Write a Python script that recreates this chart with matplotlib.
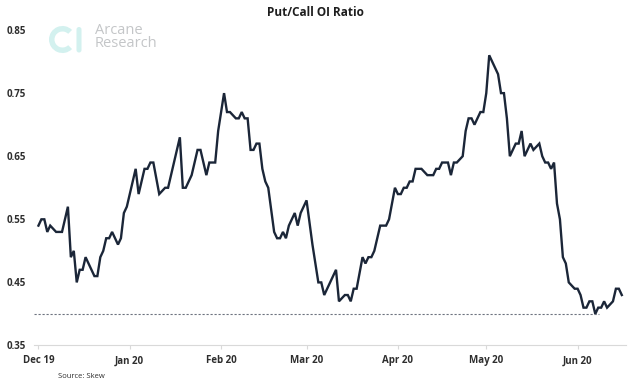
#!/usr/bin/env python3
import pandas as pd
import matplotlib
matplotlib.use('Agg')
import matplotlib.pyplot as plt
import matplotlib.dates as mdates
from matplotlib.patches import Wedge, FancyBboxPatch

plt.rcParams['font.family'] = ['Open Sans', 'DejaVu Sans']

start = pd.Timestamp('2019-12-01')

# day offset from 1 Dec 2019 and the put/call open interest ratio
day = [0, 1, 2, 3, 4, 6, 8, 10, 11, 12, 13, 14, 15, 16, 17, 19, 20, 21, 22, 23,
       24, 25, 26, 27, 28, 29, 30, 33, 34, 36, 37, 38, 39, 41, 43, 44, 48, 49, 50, 52,
       54, 55, 57, 58, 60, 61, 63, 64, 65, 67, 68, 69, 70, 71, 72, 73, 74, 75, 76, 77,
       78, 80, 81, 82, 83, 84, 85, 87, 88, 89, 91, 93, 94, 95, 96, 97, 101, 102, 104, 105,
       106, 107, 108, 110, 111, 112, 113, 114, 116, 118, 119, 121, 122, 123, 124, 125, 126, 127, 128, 130,
       132, 134, 135, 136, 137, 139, 140, 141, 142, 144, 145, 146, 147, 148, 149, 150, 151, 152, 153, 154,
       156, 157, 158, 159, 160, 161, 162, 163, 164, 165, 166, 167, 168, 170, 171, 172, 173, 174, 175, 176,
       177, 178, 179, 180, 182, 183, 184, 185, 186, 187, 188, 189, 190, 191, 192, 193, 195, 196, 197, 198]
ratio = [0.54, 0.55, 0.55, 0.53, 0.54, 0.53, 0.53, 0.57, 0.49, 0.50, 0.45, 0.47, 0.47, 0.49, 0.48, 0.46, 0.46, 0.49, 0.50, 0.52,
         0.52, 0.53, 0.52, 0.51, 0.52, 0.56, 0.57, 0.63, 0.59, 0.63, 0.63, 0.64, 0.64, 0.59, 0.60, 0.60, 0.68, 0.60, 0.60, 0.62,
         0.66, 0.66, 0.62, 0.64, 0.64, 0.69, 0.75, 0.72, 0.72, 0.71, 0.71, 0.72, 0.71, 0.71, 0.66, 0.66, 0.67, 0.67, 0.63, 0.61,
         0.60, 0.53, 0.52, 0.52, 0.53, 0.52, 0.54, 0.56, 0.54, 0.56, 0.58, 0.51, 0.48, 0.45, 0.45, 0.43, 0.47, 0.42, 0.43, 0.43,
         0.42, 0.44, 0.44, 0.49, 0.48, 0.49, 0.49, 0.50, 0.54, 0.54, 0.55, 0.60, 0.59, 0.59, 0.60, 0.60, 0.61, 0.61, 0.63, 0.63,
         0.62, 0.62, 0.63, 0.63, 0.64, 0.64, 0.62, 0.64, 0.64, 0.65, 0.69, 0.71, 0.71, 0.70, 0.71, 0.72, 0.72, 0.75, 0.81, 0.80,
         0.78, 0.75, 0.75, 0.71, 0.65, 0.66, 0.67, 0.67, 0.69, 0.65, 0.66, 0.67, 0.66, 0.67, 0.65, 0.64, 0.64, 0.63, 0.64, 0.575,
         0.55, 0.49, 0.48, 0.45, 0.44, 0.44, 0.43, 0.41, 0.41, 0.42, 0.42, 0.40, 0.41, 0.41, 0.42, 0.41, 0.42, 0.44, 0.44, 0.43]

yticks = [0.35, 0.45, 0.55, 0.65, 0.75, 0.85]

dates = start + pd.to_timedelta(day, unit='D')
series = pd.Series(ratio, index=dates)

line_color = '#1b2638'
text_color = '#2e2e2e'

fig = plt.figure(figsize=(6.3, 3.85), dpi=100)
ax = fig.add_axes([0.054, 0.1026, 0.94, 0.8194])

ax.plot(series.index, series.values, color=line_color, lw=1.7, solid_joinstyle='miter')

xmin = start - pd.Timedelta(days=1.5)
xmax = start + pd.Timedelta(days=199.5)
ax.set_xlim(xmin, xmax)
ax.set_ylim(0.35, 0.85)

# dotted marker at the low of the period
low_date = series.idxmin()
ax.hlines(series.min(), xmin, low_date + pd.Timedelta(days=1.3), colors='#6e7480',
          linestyles=(0, (2, 1.6)), lw=0.8)

for s in ['top', 'right', 'left']:
    ax.spines[s].set_visible(False)
ax.spines['bottom'].set_color('#d9d9d9')
ax.spines['bottom'].set_linewidth(0.8)

ax.set_yticks(yticks)
ax.set_yticklabels(['%.2f' % v for v in yticks])
ax.tick_params(axis='y', length=0, pad=6, labelsize=7, labelcolor=text_color)
ax.xaxis.set_major_locator(mdates.MonthLocator())
ax.xaxis.set_major_formatter(mdates.DateFormatter('%b %y'))
ax.tick_params(axis='x', length=3, width=0.8, color='#d9d9d9', pad=4,
               labelsize=7, labelcolor=text_color)
for lab in ax.get_xticklabels() + ax.get_yticklabels():
    lab.set_fontweight('bold')

fig.text(0.5, 0.968, 'Put/Call OI Ratio', ha='center', va='center',
         fontsize=8.5, fontweight='bold', color='#1e1e1e')
fig.text(0.092, 0.013, 'Source: Skew', ha='left', va='bottom', fontsize=5.5, color=text_color)

# watermark logo
lax = fig.add_axes([45 / 630, 1 - 57 / 385, 45 / 630, 35 / 385])
lax.set_xlim(45, 90)
lax.set_ylim(57, 22)
lax.axis('off')
lax.add_patch(Wedge((62.5, 39.5), 13.5, 45, 315, width=5.5, color='#d3f1ef', lw=0))
lax.add_patch(FancyBboxPatch((76.5, 27), 5, 25.5, boxstyle='round,pad=0,rounding_size=2.5',
                             color='#d3f1ef', lw=0))
fig.text(95 / 630, 1 - 30 / 385, 'Arcane', ha='left', va='center', fontsize=10.5, color='#c4c6c8')
fig.text(95 / 630, 1 - 43.5 / 385, 'Research', ha='left', va='center', fontsize=10.5, color='#c4c6c8')

fig.savefig('out.png', dpi=100)
